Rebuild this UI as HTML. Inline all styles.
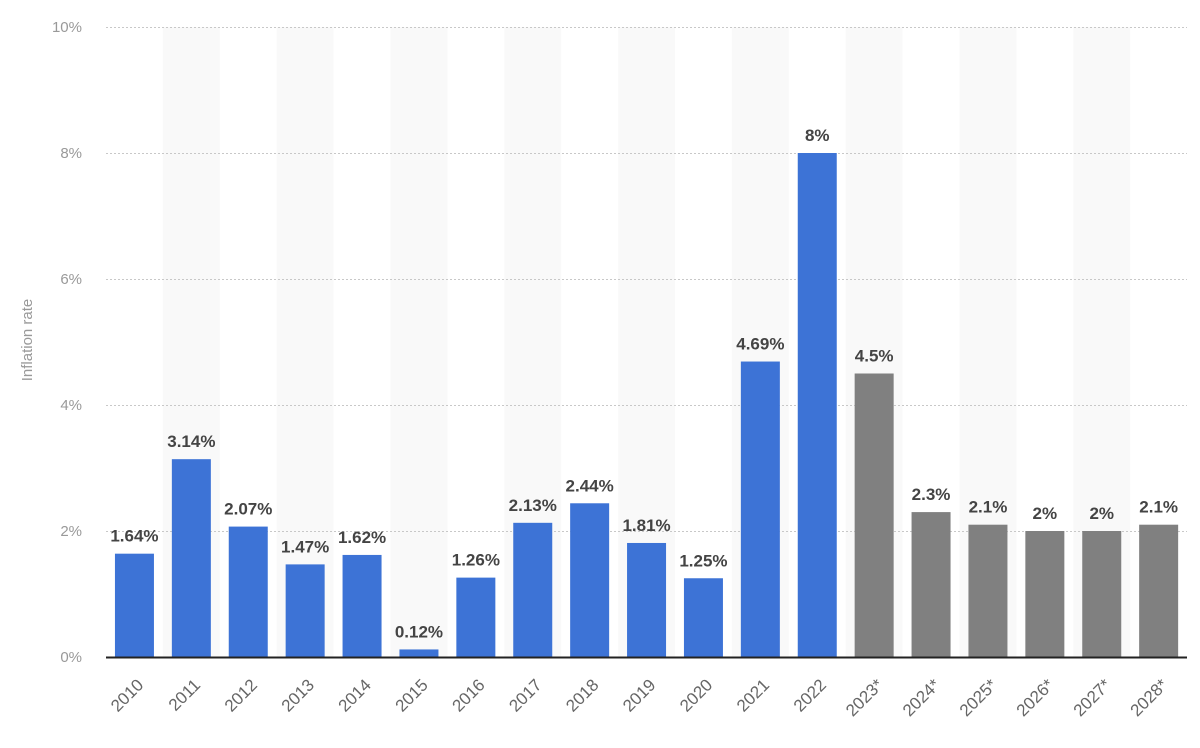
<!DOCTYPE html>
<html><head><meta charset="utf-8"><style>
body{margin:0;background:#fff;width:1200px;height:743px;overflow:hidden}
svg{font-family:"Liberation Sans","DejaVu Sans",sans-serif}
</style></head><body>
<svg width="1200" height="743" xmlns="http://www.w3.org/2000/svg">
<g id="bands" fill="#f9f9f9"></g>
<g id="grid" stroke="#c8c8c8" stroke-dasharray="2,2" stroke-width="1"></g>
<g id="ylab" fill="#999" font-size="15" text-anchor="end"></g>
<g id="bars"></g>
<g id="vals" fill="#444" font-size="17" font-weight="bold" text-anchor="middle"></g>
<g id="xlab" fill="#666" font-size="17" text-anchor="end"></g>
<line x1="106" y1="657.5" x2="1187" y2="657.5" stroke="#222" stroke-width="2"/>
<text x="32" y="340" fill="#999" font-size="15" text-anchor="middle" transform="rotate(-90 32 340)">Inflation rate</text>
</svg>
<script>
const ns="http://www.w3.org/2000/svg";
const cats=["2010","2011","2012","2013","2014","2015","2016","2017","2018","2019","2020","2021","2022","2023*","2024*","2025*","2026*","2027*","2028*"];
const v=[1.64,3.14,2.07,1.47,1.62,0.12,1.26,2.13,2.44,1.81,1.25,4.69,8,4.5,2.3,2.1,2,2,2.1];
const lbl=["1.64%","3.14%","2.07%","1.47%","1.62%","0.12%","1.26%","2.13%","2.44%","1.81%","1.25%","4.69%","8%","4.5%","2.3%","2.1%","2%","2%","2.1%"];
const x0=106,w=56.9,y0=657,s=63;
function el(p,t,a,txt){const e=document.createElementNS(ns,t);for(const k in a)e.setAttribute(k,a[k]);if(txt!=null)e.textContent=txt;document.getElementById(p).appendChild(e);}
for(let i=0;i<19;i++){
 const cx=x0+w*i+w/2;
 if(i%2==1)el("bands","rect",{x:x0+w*i,y:27,width:w,height:630});
 const h=v[i]*s;
 el("bars","rect",{x:cx-19.5,y:y0-h,width:39,height:h,fill:i<13?"#3d73d6":"#808080"});
 el("vals","text",{x:cx,y:y0-h-12},lbl[i]);
 el("xlab","text",{x:cx+10,y:686,transform:`rotate(-45 ${cx+10} 686)`},cats[i]);
}
for(let k=0;k<=5;k++){const y=y0-k*2*s;
 if(k>0)el("grid","line",{x1:106,y1:y+0.5,x2:1187,y2:y+0.5});
 el("ylab","text",{x:82,y:y+5},(k*2)+"%");}
</script>
</body></html>
